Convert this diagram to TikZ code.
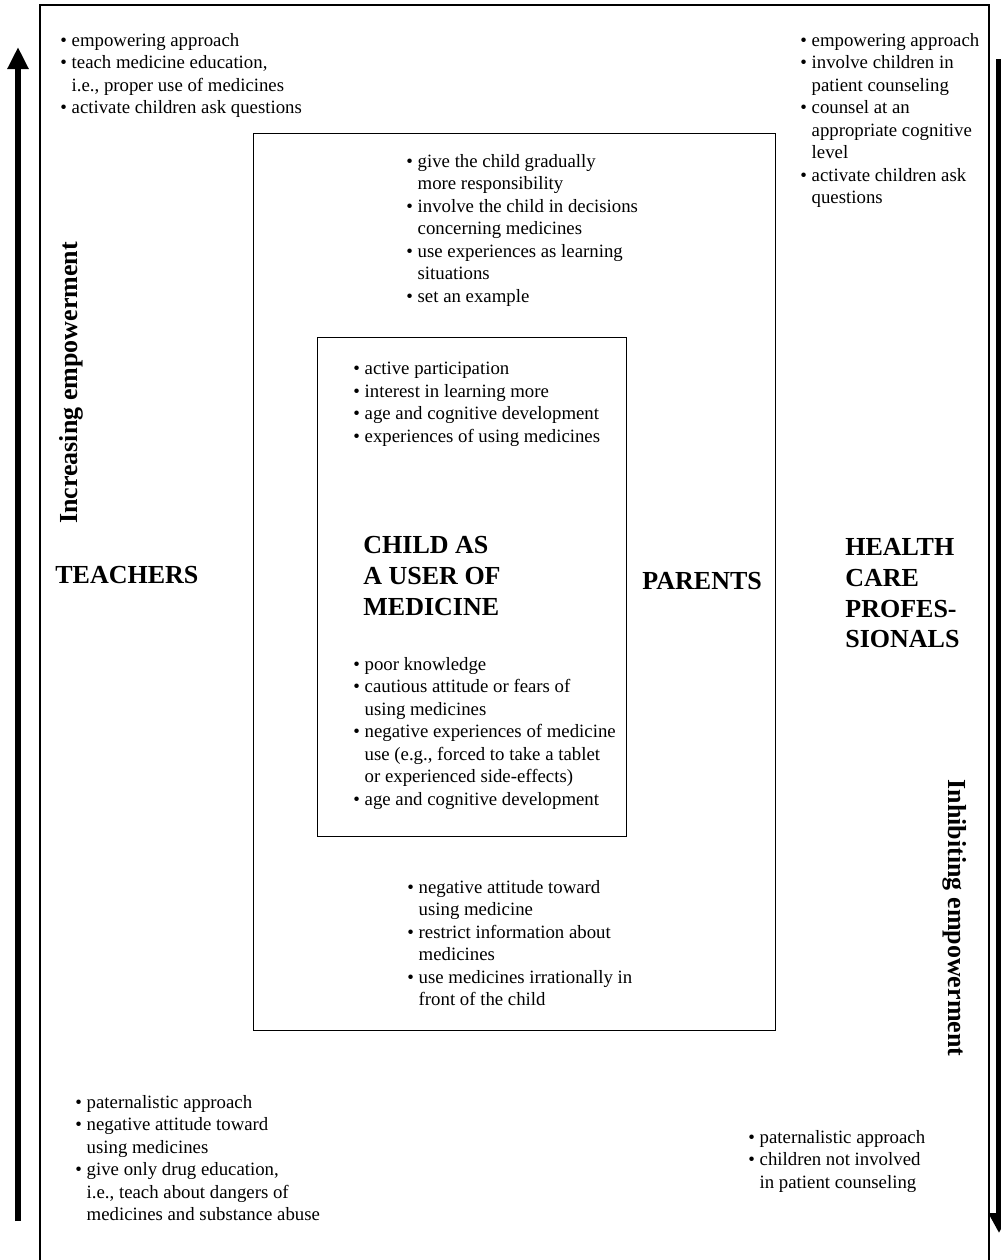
\documentclass[tikz,border=0pt]{standalone}
\usepackage{fontspec}
\setmainfont{Liberation Serif}
\usetikzlibrary{arrows.meta}

% bullet items with hanging continuation lines
\newcommand\bu{\textbullet\ }
\newcommand\hg{\hphantom{\textbullet\ }}

\tikzset{
  listtext/.style={anchor=north west, inner sep=0pt, align=left,
    font=\fontsize{9.4}{11.25}\selectfont},
  heading/.style={inner sep=0pt, align=left,
    font=\fontsize{13}{15.4}\selectfont\bfseries},
  sidetext/.style={inner sep=0pt, font=\fontsize{13}{15.4}\selectfont\bfseries},
  frame/.style={draw, line width=0.6pt},
  bigarrow/.style={line width=3pt, -{Triangle[width=10pt,length=11pt]}},
}

\begin{document}
\begin{tikzpicture}[x=0.5pt,y=-0.5pt]
  \useasboundingbox (0,0) rectangle (1001,1260);

  % frames
  \draw[frame] (40,1275) -- (40,5) -- (989,5) -- (989,1275);
  \node[frame, minimum width=261pt, minimum height=448.5pt, anchor=north west, inner sep=0pt] (parents) at (253,133) {};
  \node[frame, minimum width=154.5pt, minimum height=249.5pt, anchor=north west, inner sep=0pt] (child) at (317,337) {};

  % vertical arrows
  \coordinate (upS) at (18,1221);
  \coordinate (upE) at (18,47);
  \coordinate (dnS) at (999,59);
  \coordinate (dnE) at (999,1233);
  \draw[bigarrow] (upS) -- (upE);
  \draw[line width=3pt, -{Triangle[width=10pt,length=10pt]}] (dnS) -- (dnE);

  \node[sidetext, rotate=90] (incr) at (71,383) {Increasing empowerment};
  \node[sidetext, rotate=-90] (inhib) at (955,918) {Inhibiting empowerment};

  % group headings
  \node[heading, anchor=west] (teachers) at (55,575) {TEACHERS};
  \node[heading, anchor=west] (parentsH) at (642,581) {PARENTS};
  \node[heading, anchor=north west] (hcp) at (845,538) {HEALTH\\CARE\\PROFES-\\SIONALS};
  \node[heading, anchor=north west] (childH) at (363,536) {CHILD AS\\A USER OF\\MEDICINE};

  % teachers
  \node[listtext] (tUp) at (60,33) {\bu empowering approach\\
    \bu teach medicine education,\\
    \hg i.e., proper use of medicines\\
    \bu activate children ask questions};
  \node[listtext] (tDn) at (75,1095) {\bu paternalistic approach\\
    \bu negative attitude toward\\
    \hg using medicines\\
    \bu give only drug education,\\
    \hg i.e., teach about dangers of\\
    \hg medicines and substance abuse};

  % health care professionals
  \node[listtext] (hUp) at (800,33) {\bu empowering approach\\
    \bu involve children in\\
    \hg patient counseling\\
    \bu counsel at an\\
    \hg appropriate cognitive\\
    \hg level\\
    \bu activate children ask\\
    \hg questions};
  \node[listtext] (hDn) at (748,1130) {\bu paternalistic approach\\
    \bu children not involved\\
    \hg in patient counseling};

  % parents
  \node[listtext] (pUp) at (406,154) {\bu give the child gradually\\
    \hg more responsibility\\
    \bu involve the child in decisions\\
    \hg concerning medicines\\
    \bu use experiences as learning\\
    \hg situations\\
    \bu set an example};
  \node[listtext] (pDn) at (407,880) {\bu negative attitude toward\\
    \hg using medicine\\
    \bu restrict information about\\
    \hg medicines\\
    \bu use medicines irrationally in\\
    \hg front of the child};

  % child
  \node[listtext] (cUp) at (353,362) {\bu active participation\\
    \bu interest in learning more\\
    \bu age and cognitive development\\
    \bu experiences of using medicines};
  \node[listtext] (cDn) at (353,657) {\bu poor knowledge\\
    \bu cautious attitude or fears of\\
    \hg using medicines\\
    \bu negative experiences of medicine\\
    \hg use (e.g., forced to take a tablet\\
    \hg or experienced side-effects)\\
    \bu age and cognitive development};
\end{tikzpicture}
\end{document}
